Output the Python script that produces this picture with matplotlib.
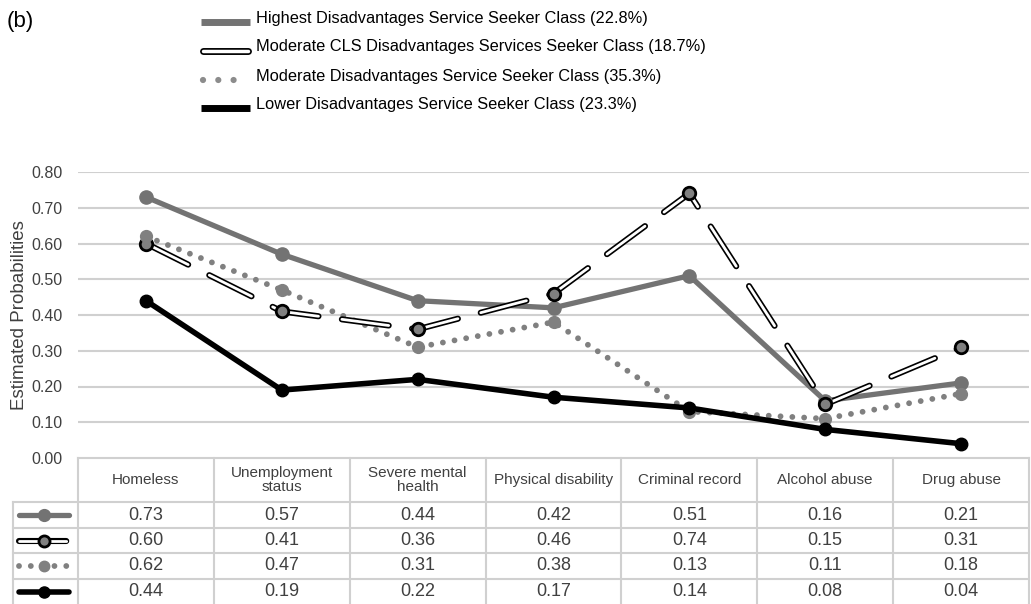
import matplotlib
matplotlib.use('Agg')
import matplotlib.pyplot as plt
import matplotlib.patheffects as pe

plt.rcParams['font.family'] = ['Liberation Sans Narrow', 'Liberation Sans', 'DejaVu Sans']
plt.rcParams['lines.scale_dashes'] = False

categories = ['Homeless', 'Unemployment\nstatus', 'Severe mental\nhealth', 'Physical disability',
              'Criminal record', 'Alcohol abuse', 'Drug abuse']
series_names = ['Highest Disadvantages Service Seeker Class (22.8%)',
                'Moderate CLS Disadvantages Services Seeker Class (18.7%)',
                'Moderate Disadvantages Service Seeker Class (35.3%)',
                'Lower Disadvantages Service Seeker Class (23.3%)']
highest = [0.73, 0.57, 0.44, 0.42, 0.51, 0.16, 0.21]
moderate_cls = [0.60, 0.41, 0.36, 0.46, 0.74, 0.15, 0.31]
moderate = [0.62, 0.47, 0.31, 0.38, 0.13, 0.11, 0.18]
lower = [0.44, 0.19, 0.22, 0.17, 0.14, 0.08, 0.04]
yticks = [0.0, 0.1, 0.2, 0.3, 0.4, 0.5, 0.6, 0.7, 0.8]

series = [highest, moderate_cls, moderate, lower]
kinds = ['highest', 'cls', 'moderate', 'lower']

W, H = 1031, 604
TXT = '#404040'
GRID = '#d0d0d0'


def draw(ax, x, y, kind, mx=None, my=None, ms=9.5):
    # line part
    if kind == 'highest':
        ax.plot(x, y, color='#737373', lw=3.8, solid_capstyle='round', zorder=3)
    elif kind == 'cls':
        ax.plot(x, y, color='white', lw=2.0, ls=(0, (34, 17)), dash_capstyle='round', zorder=4,
                path_effects=[pe.Stroke(linewidth=4.4, foreground='black'), pe.Normal()])
    elif kind == 'moderate':
        ax.plot(x, y, color='#808080', lw=4.2, ls=(0, (0.01, 8.5)), dash_capstyle='round', zorder=3)
    else:
        ax.plot(x, y, color='black', lw=4.0, solid_capstyle='round', zorder=3)
    # markers
    if mx is None:
        return
    if kind == 'highest':
        ax.plot(mx, my, 'o', color='#737373', ms=ms, zorder=5)
    elif kind == 'cls':
        ax.plot(mx, my, 'o', mfc='#808080', mec='black', mew=2.0, ms=ms - 0.5, zorder=5)
    elif kind == 'moderate':
        ax.plot(mx, my, 'o', color='#808080', ms=ms - 1, zorder=5)
    else:
        ax.plot(mx, my, 'o', color='black', ms=ms - 0.5, zorder=5)


fig = plt.figure(figsize=(W / 100, H / 100), dpi=100)

# pixel canvas for table, legend and texts
cv = fig.add_axes([0, 0, 1, 1], zorder=0)
cv.set_xlim(0, W)
cv.set_ylim(H, 0)
cv.axis('off')

x0, x1 = 78, 1029
y_top, y_bot = 172, 458
ax = fig.add_axes([x0 / W, (H - y_bot) / H, (x1 - x0) / W, (y_bot - y_top) / H], zorder=1)
ax.set_facecolor('none')
xs = list(range(len(categories)))
for vals, kind in zip(series, kinds):
    draw(ax, xs, vals, kind, xs, vals)
ax.set_xlim(-0.5, len(categories) - 0.5)
ax.set_ylim(0, 0.8)
ax.set_yticks(yticks)
ax.set_yticklabels(['%.2f' % v for v in yticks], fontsize=11.5, color=TXT)
ax.tick_params(axis='y', length=0, pad=11)
ax.set_xticks([])
for v in yticks[1:]:
    ax.axhline(v, color=GRID, lw=1.5, zorder=1)
for s in ax.spines.values():
    s.set_visible(False)

cv.text(20, 315, 'Estimated Probabilities', rotation=90, ha='center', va='center', fontsize=13.5, color=TXT)
cv.text(7, 21, '(b)', ha='left', va='center', fontsize=16, color='black')

# legend
leg_y = [18, 47, 76, 104]
for name, kind, ly in zip(series_names, kinds, leg_y):
    if kind == 'moderate':
        cv.plot([203, 248], [ly + 4, ly + 4], color='#8c8c8c', lw=4.5, ls=(0, (0.01, 11)),
                dash_capstyle='round')
    elif kind == 'cls':
        cv.plot([203, 248], [ly + 4, ly + 4], color='white', lw=2.5, solid_capstyle='round',
                path_effects=[pe.Stroke(linewidth=5, foreground='black'), pe.Normal()])
    else:
        c = '#737373' if kind == 'highest' else 'black'
        cv.plot([201, 250], [ly + 4, ly + 4], color=c, lw=5, solid_capstyle='butt')
    cv.text(256, ly, name, ha='left', va='center', fontsize=11.8, color='black')

# table
col_w = (x1 - x0) / len(categories)
rows = [458, 502, 528, 553, 579, 604]
for k in range(len(categories) + 1):
    cv.plot([x0 + k * col_w] * 2, [rows[0], H], color=GRID, lw=1.5)
cv.plot([13, 13], [rows[1], H], color=GRID, lw=1.5)
cv.plot([x0, x1], [rows[0], rows[0]], color=GRID, lw=1.5)
for r in rows[1:5]:
    cv.plot([13, x1], [r, r], color=GRID, lw=1.5)

for i, cat in enumerate(categories):
    cx = x0 + (i + 0.5) * col_w
    cv.text(cx, (rows[0] + rows[1]) / 2, cat, ha='center', va='center', fontsize=11,
            color=TXT, linespacing=1.05)
    for j, vals in enumerate(series):
        cy = (rows[j + 1] + rows[j + 2]) / 2
        cv.text(cx, cy, '%.2f' % vals[i], ha='center', va='center', fontsize=13, color=TXT)

for j, kind in enumerate(kinds):
    cy = (rows[j + 1] + rows[j + 2]) / 2
    draw(cv, [19, 69], [cy, cy], kind, [44], [cy], ms=8.5)

fig.savefig('out.png', dpi=100)
